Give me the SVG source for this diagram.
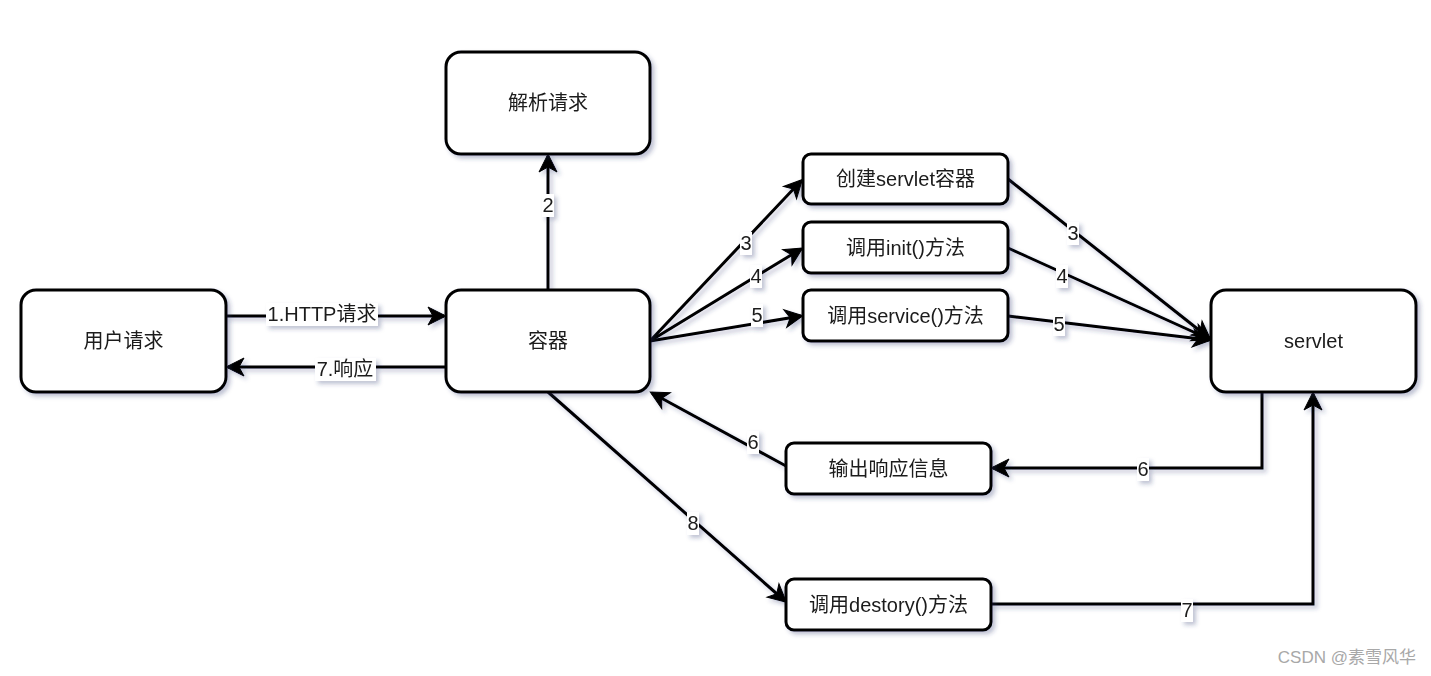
<svg xmlns="http://www.w3.org/2000/svg" width="1431" height="676" viewBox="0 0 1431 676">
<style>
.node rect{fill:#fff;stroke:#000;stroke-width:3}
.node text,.lbl text{font-family:"Liberation Sans","Noto Sans CJK SC",sans-serif;font-size:20px;fill:#1a1a1a;text-anchor:middle;dominant-baseline:central}
.edge{fill:none;stroke:#000;stroke-width:3;marker-end:url(#arr)}
.lbl rect{fill:#fff}
.wm{font-family:"Liberation Sans","Noto Sans CJK SC",sans-serif;font-size:17px;fill:#a8a8a8}
</style>
<defs>
<filter id="sh" x="-20%" y="-20%" width="140%" height="140%">
<feDropShadow dx="3" dy="3" stdDeviation="2" flood-color="#2a3470" flood-opacity="0.3"/>
</filter>
<marker id="arr" markerUnits="userSpaceOnUse" markerWidth="24" markerHeight="24" viewBox="-18 -12 24 24" refX="0" refY="0" orient="auto" overflow="visible">
<path d="M2,0 L-16,-9 L-11,0 L-16,9 Z" fill="#000" stroke="#000" stroke-width="1"/>
</marker>
</defs>
<rect width="1431" height="676" fill="#fff"/>
<g id="connectors" filter="url(#sh)">
<path class="edge" d="M226,316 L444,316"/>
<path class="edge" d="M446,367 L228,367"/>
<path class="edge" d="M548,290 L548,156"/>
<path class="edge" d="M650,341 L801,181"/>
<path class="edge" d="M650,341 L801,249"/>
<path class="edge" d="M650,341 L801,316"/>
<path class="edge" d="M1008,179 L1209,338"/>
<path class="edge" d="M1008,248 L1209,339"/>
<path class="edge" d="M1008,316 L1209,340"/>
<path class="edge" d="M1262,392 L1262,468 L993,468"/>
<path class="edge" d="M786,466 L652,393"/>
<path class="edge" d="M548,392 L785,601"/>
<path class="edge" d="M991,604 L1313,604 L1313,394"/>
<g class="lbl">
<rect x="266" y="303" width="112" height="23"/><text x="322" y="314">1.HTTP请求</text>
<rect x="315" y="358" width="61" height="23"/><text x="345" y="369">7.响应</text>
<rect x="542" y="194" width="12" height="23"/><text x="548" y="205">2</text>
<rect x="740" y="232" width="12" height="23"/><text x="746" y="243">3</text>
<rect x="750" y="265" width="12" height="23"/><text x="756" y="276">4</text>
<rect x="751" y="304" width="12" height="23"/><text x="757" y="315">5</text>
<rect x="1067" y="222" width="12" height="23"/><text x="1073" y="233">3</text>
<rect x="1056" y="265" width="12" height="23"/><text x="1062" y="276">4</text>
<rect x="1053" y="313" width="12" height="23"/><text x="1059" y="324">5</text>
<rect x="1137" y="458" width="12" height="23"/><text x="1143" y="469">6</text>
<rect x="747" y="431" width="12" height="23"/><text x="753" y="442">6</text>
<rect x="687" y="512" width="12" height="23"/><text x="693" y="523">8</text>
<rect x="1181" y="599" width="12" height="23"/><text x="1187" y="610">7</text>
</g>
</g>
<g id="n-user" class="node" filter="url(#sh)"><rect x="21" y="290" width="205" height="102" rx="15"/><text x="123.5" y="341">用户请求</text></g>
<g id="n-container" class="node" filter="url(#sh)"><rect x="446" y="290" width="204" height="102" rx="15"/><text x="548" y="341">容器</text></g>
<g id="n-parse" class="node" filter="url(#sh)"><rect x="446" y="52" width="204" height="102" rx="15"/><text x="548" y="103">解析请求</text></g>
<g id="n-create" class="node" filter="url(#sh)"><rect x="803" y="154" width="205" height="50" rx="8"/><text x="905.5" y="179">创建servlet容器</text></g>
<g id="n-init" class="node" filter="url(#sh)"><rect x="803" y="222" width="205" height="51" rx="8"/><text x="905.5" y="247.5">调用init()方法</text></g>
<g id="n-service" class="node" filter="url(#sh)"><rect x="803" y="290" width="205" height="51" rx="8"/><text x="905.5" y="315.5">调用service()方法</text></g>
<g id="n-servlet" class="node" filter="url(#sh)"><rect x="1211" y="290" width="205" height="102" rx="15"/><text x="1313.5" y="341">servlet</text></g>
<g id="n-output" class="node" filter="url(#sh)"><rect x="786" y="443" width="205" height="51" rx="8"/><text x="888.5" y="468.5">输出响应信息</text></g>
<g id="n-destroy" class="node" filter="url(#sh)"><rect x="786" y="579" width="205" height="51" rx="8"/><text x="888.5" y="604.5">调用destory()方法</text></g>
<text class="wm" x="1416" y="663" text-anchor="end">CSDN @素雪风华</text>
</svg>
